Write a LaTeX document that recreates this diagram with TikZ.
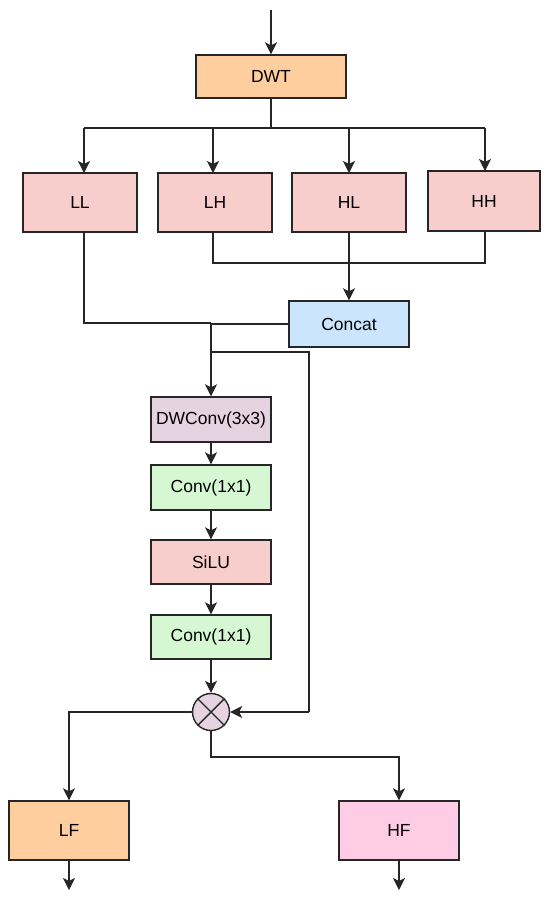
\documentclass[tikz,border=0pt]{standalone}
\usepackage{fontspec}
\setmainfont{Liberation Sans}
\usetikzlibrary{arrows.meta,calc}
\definecolor{corange}{HTML}{FFCE9F}
\definecolor{cpink}{HTML}{F8CECC}
\definecolor{cblue}{HTML}{CCE5FF}
\definecolor{cpurple}{HTML}{E6D3E2}
\definecolor{cgreen}{HTML}{D5F8D2}
\definecolor{cmag}{HTML}{FFCCE6}
\definecolor{ccirc}{HTML}{E6D3E2}
\tikzset{
  blk/.style={draw=black!85,line width=1.4pt,minimum width=#1,minimum height=44pt,inner sep=0pt,font=\fontsize{17.5}{20}\selectfont},
  blk/.default=120pt,
  arr/.style={line width=1.5pt,draw=black!85,-{Stealth[length=12pt,width=12pt,inset=3pt]}},
  ln/.style={line width=1.5pt,draw=black!85},
}
\begin{document}
\begin{tikzpicture}[x=1pt,y=-1pt]
\useasboundingbox (0,0) rectangle (550,900);
% nodes
\node[blk=150pt,fill=corange,minimum height=43pt] (dwt) at (271,76.5) {DWT};
\node[blk=114pt,fill=cpink,minimum height=59pt] (ll) at (80,202.5) {LL};
\node[blk=114pt,fill=cpink,minimum height=59pt] (lh) at (215,202.5) {LH};
\node[blk=114pt,fill=cpink,minimum height=59pt] (hl) at (349,202.5) {HL};
\node[blk=112pt,fill=cpink,minimum height=60pt] (hh) at (484,201) {HH};
\node[blk=120pt,fill=cblue,minimum height=46pt] (cat) at (349,324) {Concat};
\node[blk,fill=cpurple,minimum height=45pt] (dw) at (211,419.5) {DWConv(3x3)};
\node[blk,fill=cgreen,minimum height=45pt] (c1) at (211,487.5) {Conv(1x1)};
\node[blk,fill=cpink,minimum height=44pt] (silu) at (211,562) {SiLU};
\node[blk,fill=cgreen,minimum height=44pt] (c2) at (211,637) {Conv(1x1)};
\node[circle,draw=black!85,line width=1.4pt,fill=ccirc,minimum size=37pt,inner sep=0pt] (mul) at (211,712) {};
\draw[line width=1.4pt,draw=black!85] (mul.north west) -- (mul.south east) (mul.north east) -- (mul.south west);
\node[blk,fill=corange,minimum height=59pt] (lf) at (69,830.5) {LF};
\node[blk,fill=cmag,minimum height=59pt] (hf) at (399,830.5) {HF};
% coordinates
\coordinate (in) at (271,10);
\coordinate (bus) at (271,128);
\coordinate (lfo) at (69,890);
\coordinate (hfo) at (399,890);
\coordinate (j) at (211,323);
\coordinate (br) at (211,352);
% connectors
\draw[arr] (in) -- (dwt.north);
\draw[ln] (dwt.south) -- (bus);
\draw[ln] (84,128) -- (485,128);
\draw[arr] (84,128) -- (84,173);
\draw[arr] (213,128) -- (213,173);
\draw[arr] (349,128) -- (349,173);
\draw[arr] (485,128) -- (485,171);
\draw[ln] (lh.south -| 213,0) -- (213,263) -- (485,263) -- (hh.south -| 485,0);
\draw[arr] (hl.south) -- (cat.north);
\draw[ln] (84,232) |- (j);
\draw[ln] (cat.west) -- (j |- cat.west);
\draw[arr] (j) -- (dw.north);
\draw[ln] (br) -- (309,352) -- (309,712);
\draw[arr] (309,712) -- (mul.east);
\draw[arr] (dw.south) -- (c1.north);
\draw[arr] (c1.south) -- (silu.north);
\draw[arr] (silu.south) -- (c2.north);
\draw[arr] (c2.south) -- (mul.north);
\draw[arr] (mul.west) -| (lf.north);
\draw[arr] (mul.south) |- (399,757) -- (hf.north);
\draw[arr] (lf.south) -- (lfo);
\draw[arr] (hf.south) -- (hfo);
\end{tikzpicture}
\end{document}
